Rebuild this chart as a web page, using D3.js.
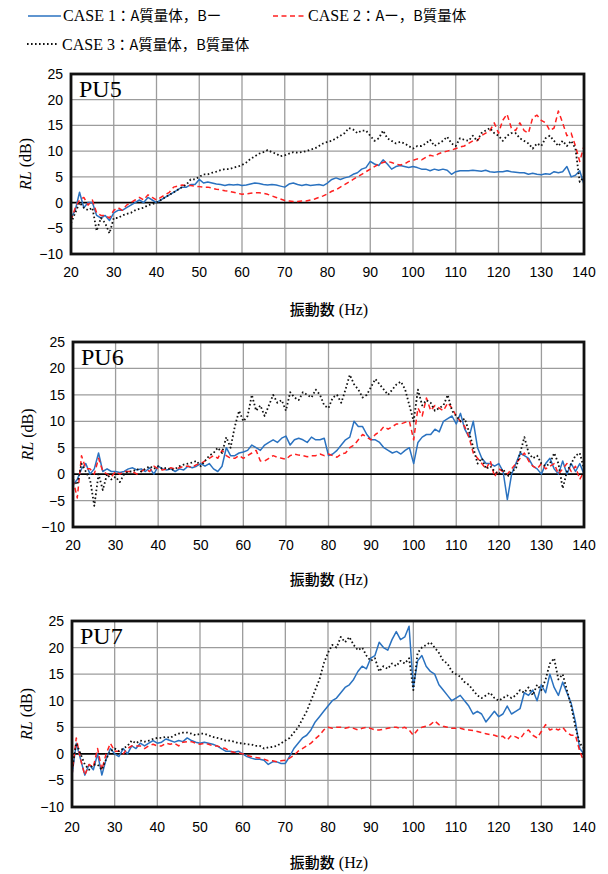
<!DOCTYPE html>
<html>
<head>
<meta charset="utf-8">
<script src="https://cdn.jsdelivr.net/npm/d3@7"></script>
<style>
  body { margin: 0; background: #fff; }
  svg { display: block; }
  .tick-label { font-family: "Liberation Sans", Arial, sans-serif; font-size: 14px; fill: #000; }
</style>
</head>
<body>
<div id="chart"></div>
<script>
// frequency grid (Hz), 1 Hz steps
let freq = d3.range(20, 141)

let xTicks = [20, 30, 40, 50, 60, 70, 80, 90, 100, 110, 120, 130, 140]
let yTicks = [-10, -5, 0, 5, 10, 15, 20, 25]

let caseNames = ['CASE 1', 'CASE 2', 'CASE 3']
let caseLabels = ['：A質量体，Bー', '：Aー，B質量体', '：A質量体，B質量体']

// PU5
let pu5Case1 = [-3, -1.5, 2, -1, 0, 0, -2.5, -3, -2.5, -3.5, -2, -1.5, -1.5, -1, -0.5, 0, 0.5, 0, 1, 0.5,
  0, 0.5, 1, 1.5, 2, 2.5, 3, 3, 3.5, 3.5, 4.5, 3.8, 4, 3.8, 3.6, 3.5, 3.3, 3.5, 3.4, 3.5,
  3.3, 3.4, 3.6, 3.8, 3.7, 3.5, 3.4, 3.5, 3.4, 3.2, 3, 3.6, 3.8, 3.5, 3.3, 3.5, 3.3, 3.4, 3.5, 3.3,
  3.8, 4.5, 4.8, 4.5, 4.8, 5, 5.5, 5.8, 6.5, 6.8, 8, 7.5, 7.2, 8.3, 7.5, 6.5, 7, 7.2, 7, 6.8,
  7, 6.8, 6.5, 6.5, 6.2, 6.5, 6.3, 6.5, 6.3, 5.5, 6, 6.2, 6.2, 6.2, 6.3, 6.2, 6.1, 6.3, 6, 5.9,
  6, 6, 6.2, 6, 5.9, 5.8, 5.8, 5.5, 5.7, 5.5, 5.4, 5.6, 5.5, 6, 5.8, 6, 7, 5, 5.3, 6.2, 3.5]
let pu5Case2 = [-3.5, -1, 0.5, 1, -0.5, 0.5, -2, -2.5, -2.5, -3, -1.5, -1, -1.5, -0.5, 0, 0.5, 1, 0.5, 1.5, 1,
  0.5, 1, 1.5, 2, 3, 3.2, 3.4, 3.3, 3.3, 3.2, 3.1, 3, 3, 2.8, 2.6, 2.5, 2.3, 2.2, 2, 1.8,
  1.6, 1.7, 1.8, 1.9, 1.9, 1.8, 1.6, 1.3, 1, 0.7, 0.4, 0.3, 0.2, 0.2, 0.3, 0.3, 0.5, 0.7, 1, 1.3,
  1.7, 2.2, 2.5, 3, 3.5, 4, 4.5, 5, 5.5, 6, 6.5, 7, 7.5, 7.8, 8, 7.8, 7.5, 7.3, 7.5, 8,
  8.2, 8.5, 8.3, 8.8, 9.2, 9, 9.5, 9.8, 10, 10.2, 10.5, 10.8, 11, 11.5, 12, 12, 13, 13.5, 14, 15.5,
  13.5, 16, 17.2, 14.5, 14, 15.5, 14, 13.5, 16.5, 17, 16, 15.5, 14, 14.5, 17.8, 15.5, 13, 13.5, 11, 8, 11]
let pu5Case3 = [-4, -2, 0, -1, -1.5, -1, -5.5, -3, -4, -6, -3, -3, -2.5, -2.2, -2, -1.5, -1.2, -1, -0.5, -0.3,
  0, 0.5, 1, 1.5, 2, 2.5, 3, 3.5, 4.5, 4.5, 5, 5.5, 5.5, 5.8, 6, 6.3, 6.5, 6.5, 6.8, 7,
  7.3, 7.8, 8.5, 9, 9.5, 9.8, 10.2, 9.8, 9.5, 9, 9.2, 9.5, 9.8, 9.7, 9.8, 10, 10.3, 10.5, 11, 11.5,
  11.8, 12, 12.5, 13, 13.5, 14.5, 14.2, 13.5, 14, 14, 13, 12, 12.5, 14, 12.5, 12, 11.5, 11.8, 11.5, 11,
  10.5, 11, 11, 11.5, 12.2, 11, 11.5, 12, 12.8, 11.5, 11, 12.5, 12.2, 12, 13, 12, 13.5, 14, 14.5, 13.5,
  13, 12, 13, 13.5, 13.5, 12.5, 12, 11.5, 10.5, 11.5, 11, 12.5, 13, 12, 11, 12, 11, 12, 10.5, 4, 5]

// PU6
let pu6Case1 = [-2, -1, 1, 2, 0, 1, 4, 0.5, 1, 0.5, 0.5, 0.3, 0.5, 1, 1.2, 0.8, 1, 0.5, 1.2, 0,
  1.5, 1, 0.8, 1, 0.5, 1, 0.8, 1.5, 1.2, 1.5, 2, 1.5, 2, 1, 0.5, 1.5, 5, 3.5, 3.5, 4,
  4.2, 4.5, 5.5, 5, 4.5, 5.5, 6, 6.5, 6, 6.8, 7.2, 5.5, 6.5, 6.8, 6.5, 6, 7, 6.5, 6.5, 6.8,
  3.5, 3.8, 4.5, 5.5, 6.5, 7, 10, 9, 9, 7.5, 6.5, 6.5, 6, 5, 4.5, 4, 4.3, 3.8, 4.5, 5,
  2, 6, 7, 7.5, 7.5, 8.5, 8, 10, 10.5, 11, 9.5, 11.5, 8.5, 7, 10, 5, 3, 2, 2, 1.5,
  2, 0.5, -4.8, 0, 2, 4, 3.5, 3, 1.5, 1, 0, 2, 3, 1, 0, 2.5, 0, 2, 0.5, 2, 0]
let pu6Case2 = [-1, -4.5, 3.5, 1, 1, 0, 3, 0.5, 0, -0.5, 0.5, 0, 0.5, 0.5, 0.5, 0, 0.5, 1, 0.5, 1.5,
  1, 0.8, 1, 1.2, 1, 1.2, 1.5, 1.5, 1.3, 1.8, 2, 2.5, 3, 3.5, 3, 4.5, 3.5, 3, 3, 3.5,
  3, 3.5, 4, 4.5, 2.5, 2.5, 3, 3.5, 3.2, 3, 2.8, 3.5, 3.8, 3.6, 3.5, 3.3, 3.5, 3.5, 3.8, 3.5,
  3.8, 3.5, 3.2, 3.8, 4, 5, 5.5, 6.5, 7.5, 7, 6.5, 7.5, 8, 9, 8.5, 9, 9.5, 9.5, 9.8, 10,
  6.5, 12.5, 11, 14.4, 12, 13, 12.5, 12, 13.5, 12.5, 11, 10, 9, 7, 4, 3, 2, 1, 2.5, -0.5,
  1, 0.5, 0, 1, 2, 3, 4, 2.5, 1.5, 1, 2, 1, 1.5, 2, 0, 1, 2, 0.5, 1.5, -1, 0.5]
let pu6Case3 = [-1, -2, 2, 0.5, -1, -6, 0, -3, 0, -1, -0.5, -1.5, 0, 0.5, 0.5, 1, 0.5, 1, 1.5, 1,
  1.5, 1, 1.2, 0.8, 1, 1.5, 1.8, 2, 2.2, 2.5, 1.5, 2.5, 3.5, 4, 5, 4, 7, 5, 9, 12,
  10, 11, 15, 12, 13, 11, 13, 15, 13.5, 14, 12, 15.5, 14.5, 14, 15.5, 15, 14.5, 16, 15, 13,
  12.5, 14.5, 15, 13.5, 16, 18.8, 17, 16, 14.5, 15, 16.5, 18, 17, 16, 15, 16, 17, 17.5, 16, 13,
  10, 16, 13, 14, 13.5, 12, 12.5, 13, 15, 12, 11, 10, 10.5, 8, 5, 2, 3, 1, 1.5, 0.5,
  0, 1, -0.5, 0.5, 1, 4, 7, 4, 3, 3.5, 2, 1.5, 2, 4, 2, -2.7, 0.5, 2, 3.5, 4, 1]

// PU7
let pu7Case1 = [-4, 2, -1, -4, -2, -3, 0, -4, -1, 1, 0, -0.5, 1, 0, 1.5, 1, 2, 1.5, 2, 2.5,
  2, 2.2, 2.8, 2.5, 2.2, 2.5, 2.3, 3, 2.5, 2.2, 2, 2.2, 2, 1.8, 1.5, 1, 0.5, 0.5, 0.3, 0.5,
  0, -0.5, -0.8, -1, -1, -1.2, -2, -1.5, -1.5, -1.8, -1.8, -0.5, 1, 2, 3, 3.5, 4.5, 6, 7, 8,
  9, 10, 10.5, 11.5, 12.5, 13, 14, 15.5, 16.5, 16, 18, 18.5, 21, 20, 19.5, 21.5, 23, 21.5, 22, 24,
  12.5, 17.5, 18.5, 16.5, 15.5, 15, 13, 12, 11, 10, 10.5, 11, 10, 9, 7.5, 8, 7.5, 6, 7, 8,
  7, 7.5, 9, 7.5, 8, 8.5, 11.5, 11, 12, 10, 13, 11.5, 15, 12.5, 11, 13.5, 11.5, 9.5, 6, 1, 0]
let pu7Case2 = [-4, 3, -1, -4, -2, -2.5, 1, -3, 0, 2, 0.5, 0.5, 0, 1, 1.5, 1.5, 1.5, 1, 1.5, 1.8,
  1.5, 1.5, 2, 1.8, 2, 1.5, 2.2, 2.3, 2.3, 2, 1.8, 2, 1.8, 1.5, 1.5, 1.2, 1, 0.5, 0.3, 0.2,
  0, -0.3, -0.5, -0.7, -0.8, -1, -1.3, -1.3, -1.5, -1.3, -1.2, -0.8, -0.3, 0.5, 1, 1.5, 2, 2.8, 3.5, 4.5,
  5, 4.8, 5, 5, 4.8, 5, 4.8, 4.5, 4.8, 5, 4.8, 4.5, 4.5, 4.6, 4.8, 5, 5, 4.8, 5, 4.5,
  3.5, 4.5, 5, 5.2, 5.5, 6.2, 5.5, 5.2, 5, 4.8, 4.8, 4.8, 4.6, 4.5, 4.4, 4.2, 4, 3.8, 3.6, 3.5,
  3.2, 3.3, 2.6, 3.5, 3.2, 2.8, 3.9, 4.5, 3.5, 3, 4.2, 5.5, 4.5, 4.8, 4.5, 5, 4, 3.5, 3.5, 0.5, -1.5]
let pu7Case3 = [-3, 2, 0, -2, -3, -2, -2, -3, -1, 0.5, 1, 0.5, 1, 1.5, 2.5, 2, 2.5, 2.3, 2.5, 2.8,
  3, 3, 3.2, 3, 3.5, 3.8, 4, 4, 3.8, 3.5, 3.8, 3.8, 3.5, 3.2, 3, 2.8, 2.5, 2.5, 2.3, 2,
  2, 1.8, 1.8, 1.5, 1.5, 1, 1.2, 1.3, 1.5, 2, 2.5, 3, 4, 5, 6.5, 8, 10, 12, 14, 17,
  19, 20.5, 20, 22, 21, 22, 20.5, 19.5, 20, 18.5, 17.5, 18, 15.5, 16.5, 16, 17, 16.5, 17.5, 17, 18,
  12, 19, 20, 20.5, 21, 20, 19, 17.5, 17, 15.5, 15, 14.5, 13.5, 13, 12, 11, 10.5, 11, 11.5, 10.5,
  10, 10.5, 11, 10.5, 11, 12, 11.5, 12.5, 11, 13, 12, 14, 17, 18, 14, 15, 12, 9, 5, 2, 1]

let panelNames = ['PU5', 'PU6', 'PU7']
let panelData = [
  [pu5Case1, pu5Case2, pu5Case3],
  [pu6Case1, pu6Case2, pu6Case3],
  [pu7Case1, pu7Case2, pu7Case3]
]

// layout
let W = 608
let H = 874
let panels = [
  { left: 71, top: 74, right: 584, bottom: 254, tickY: 277, titleY: 315 },
  { left: 73, top: 342, right: 584, bottom: 527, tickY: 550, titleY: 585 },
  { left: 72, top: 621, right: 584, bottom: 807, tickY: 832, titleY: 868 }
]
let styles = [
  { color: '#2a72c0', dash: null, width: 1.5 },
  { color: '#ff2020', dash: '5,3.5', width: 1.5 },
  { color: '#111', dash: '1.6,2.4', width: 1.8 }
]

let svg = d3.select('#chart').append('svg')
  .attr('width', W)
  .attr('height', H)

// legend
// -------------
let legendItems = [
  { x1: 28, x2: 61, y: 16, tx: 63, ty: 21 },
  { x1: 273, x2: 305, y: 16, tx: 308, ty: 21 },
  { x1: 27, x2: 58, y: 44, tx: 62, ty: 50 }
]
legendItems.forEach((d, i) => {
  svg.append('line')
    .attr('x1', d.x1).attr('x2', d.x2)
    .attr('y1', d.y).attr('y2', d.y)
    .attr('stroke', styles[i].color)
    .attr('stroke-width', styles[i].width)
    .attr('stroke-dasharray', styles[i].dash)
  let t = svg.append('text')
    .attr('x', d.tx).attr('y', d.ty)
  t.append('tspan')
    .style('font-family', '"Liberation Serif", serif')
    .style('font-size', '16px')
    .text(caseNames[i])
  t.append('tspan')
    .style('font-family', '"Noto Sans CJK JP", sans-serif')
    .style('font-size', '14.5px')
    .text(caseLabels[i])
})

// panels
// -------------
panels.forEach((p, k) => {
  let x = d3.scaleLinear().domain([20, 140]).range([p.left, p.right])
  let y = d3.scaleLinear().domain([-10, 25]).range([p.bottom, p.top])
  let g = svg.append('g')

  // grid
  g.selectAll('.vgrid').data(xTicks.slice(1, -1))
    .enter().append('line')
    .attr('x1', (d) => x(d)).attr('x2', (d) => x(d))
    .attr('y1', p.top).attr('y2', p.bottom)
    .attr('stroke', '#9c9c9c').attr('stroke-width', 1.3)
  g.selectAll('.hgrid').data(yTicks.slice(1, -1).filter((d) => d !== 0))
    .enter().append('line')
    .attr('x1', p.left).attr('x2', p.right)
    .attr('y1', (d) => y(d)).attr('y2', (d) => y(d))
    .attr('stroke', '#9c9c9c').attr('stroke-width', 1.3)

  // zero line
  g.append('line')
    .attr('x1', p.left).attr('x2', p.right)
    .attr('y1', y(0)).attr('y2', y(0))
    .attr('stroke', '#000').attr('stroke-width', 1.8)

  // series
  let line = d3.line()
    .x((d, i) => x(freq[i]))
    .y((d) => y(d))
  panelData[k].forEach((series, i) => {
    g.append('path')
      .datum(series)
      .attr('d', line)
      .attr('fill', 'none')
      .attr('stroke', styles[i].color)
      .attr('stroke-width', styles[i].width)
      .attr('stroke-dasharray', styles[i].dash)
      .attr('stroke-linejoin', 'round')
  })

  // frame
  g.append('rect')
    .attr('x', p.left).attr('y', p.top)
    .attr('width', p.right - p.left).attr('height', p.bottom - p.top)
    .attr('fill', 'none').attr('stroke', '#111').attr('stroke-width', 2.8)

  // tick labels
  g.selectAll('.ylab').data(yTicks)
    .enter().append('text')
    .attr('class', 'tick-label')
    .attr('x', p.left - 8)
    .attr('y', (d) => y(d))
    .attr('dy', '0.36em')
    .attr('text-anchor', 'end')
    .text((d) => d < 0 ? '\u2212' + Math.abs(d) : d)
  g.selectAll('.xlab').data(xTicks)
    .enter().append('text')
    .attr('class', 'tick-label')
    .attr('x', (d) => x(d))
    .attr('y', p.tickY)
    .attr('text-anchor', 'middle')
    .text((d) => d)

  // panel name
  g.append('text')
    .attr('x', p.left + 8)
    .attr('y', p.top + 23)
    .style('font-family', '"Liberation Serif", serif')
    .style('font-size', '24px')
    .text(panelNames[k])

  // y title
  let yt = g.append('text')
    .attr('transform', 'translate(' + (p.left - 40) + ',' + ((p.top + p.bottom) / 2) + ')rotate(-90)')
    .attr('text-anchor', 'middle')
    .style('font-family', '"Liberation Serif", serif')
    .style('font-size', '16px')
  yt.append('tspan').style('font-style', 'italic').text('RL')
  yt.append('tspan').text(' (dB)')

  // x title
  let xt = g.append('text')
    .attr('x', 329)
    .attr('y', p.titleY)
    .attr('text-anchor', 'middle')
  xt.append('tspan')
    .style('font-family', '"Noto Sans CJK JP", sans-serif')
    .style('font-size', '15px')
    .style('font-weight', 500)
    .text('振動数')
  xt.append('tspan')
    .style('font-family', '"Liberation Serif", serif')
    .style('font-size', '16px')
    .text(' (Hz)')
})
</script>
</body>
</html>
